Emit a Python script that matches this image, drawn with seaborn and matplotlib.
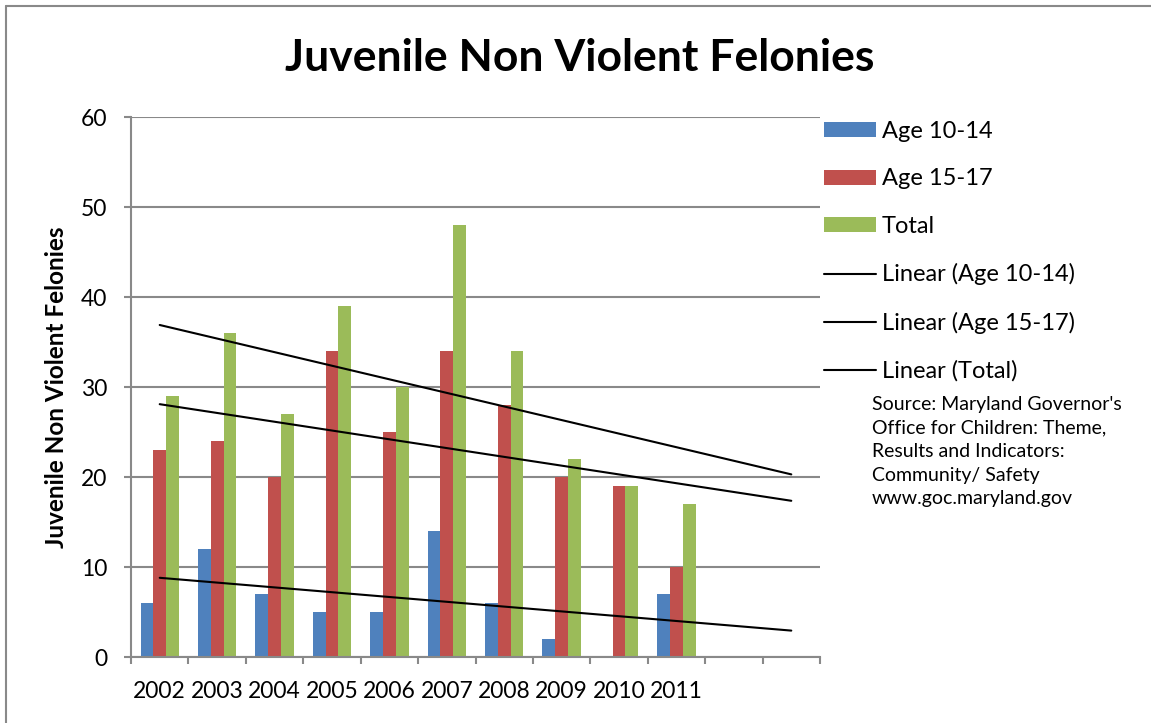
import numpy as np
import pandas as pd
import matplotlib
matplotlib.use("Agg")
import matplotlib.pyplot as plt
from matplotlib.patches import Patch
from matplotlib.lines import Line2D
import seaborn as sns

# Yearly juvenile non-violent felony counts
years = ["2002", "2003", "2004", "2005", "2006", "2007", "2008", "2009", "2010", "2011"]
age_10_14 = [6, 12, 7, 5, 5, 14, 6, 2, 0, 7]
age_15_17 = [23, 24, 20, 34, 25, 34, 28, 20, 19, 10]
total = [29, 36, 27, 39, 30, 48, 34, 22, 19, 17]
series_names = ["Age 10-14", "Age 15-17", "Total"]
forecast_periods = 2

colors = ["#4F81BD", "#C0504D", "#9BBB59"]
grid_gray = "#898989"

sns.set_theme(style="white")
plt.rcParams["font.family"] = ["Lato", "DejaVu Sans"]
plt.rcParams.update({"text.color": "black", "axes.labelcolor": "black",
                     "xtick.color": "black", "ytick.color": "black"})

df = pd.DataFrame({
    "year": years * 3,
    "series": sum([[n] * len(years) for n in series_names], []),
    "value": age_10_14 + age_15_17 + total,
})

fig = plt.figure(figsize=(11.51, 7.23), dpi=100)
ax = fig.add_axes([131 / 1151, 1 - 657 / 723, (820 - 131) / 1151, 540 / 723])

sns.barplot(data=df, x="year", y="value", hue="series", order=years,
            hue_order=series_names, palette=colors, width=3 / 4.5, gap=0,
            saturation=1, errorbar=None, legend=False, ax=ax, zorder=2)
for bar in ax.patches:
    bar.set_linewidth(0)

# Linear trendlines, extended two periods forward
n_cat = len(years) + forecast_periods
x_fit = np.arange(len(years))
x_ext = np.arange(n_cat)
for vals in (age_10_14, age_15_17, total):
    slope, intercept = np.polyfit(x_fit, vals, 1)
    sns.lineplot(x=x_ext, y=slope * x_ext + intercept, color="black",
                 linewidth=1.5, ax=ax, zorder=3)

ax.set_xlim(-0.5, n_cat - 0.5)
ax.set_ylim(0, 60)
ax.set_yticks(range(0, 61, 10))
ax.yaxis.grid(True, color=grid_gray, linewidth=1.5, zorder=0)
ax.set_axisbelow(True)

ax.set_xticks(range(len(years)))
ax.set_xticklabels(years)
ax.set_xticks(np.arange(-0.5, n_cat, 1), minor=True)
ax.tick_params(axis="x", which="major", length=0, pad=17, labelsize=16.5, labelcolor="black")
ax.tick_params(axis="x", which="minor", length=5, width=1.5, color=grid_gray,
               direction="out", bottom=True)
ax.tick_params(axis="y", length=5, width=1.5, color=grid_gray, direction="out",
               left=True, pad=12, labelsize=16.5, labelcolor="black")

for side in ("top", "right"):
    ax.spines[side].set_visible(False)
for side in ("left", "bottom"):
    ax.spines[side].set_color(grid_gray)
    ax.spines[side].set_linewidth(1.5)

ax.set_xlabel("")
ax.set_ylabel("Juvenile Non Violent Felonies", fontsize=17.5, fontweight="bold")
ax.yaxis.set_label_coords((68 - 131) / 689, 0.5)

fig.text(580 / 1151, 1 - 58 / 723, "Juvenile Non Violent Felonies",
         ha="center", va="center", fontsize=32, fontweight="bold")

handles = [Patch(facecolor=c, edgecolor="none") for c in colors]
handles += [Line2D([], [], color="black", linewidth=1.5) for _ in range(3)]
labels = series_names + [f"Linear ({n})" for n in series_names]
fig.legend(handles, labels, loc="upper left",
           bbox_to_anchor=(824 / 1151, 1 - 121 / 723), frameon=False,
           fontsize=17, handlelength=2.2, handleheight=0.6, handletextpad=0.25,
           labelspacing=1.12, borderpad=0, borderaxespad=0)

fig.text(872 / 1151, 1 - 396 / 723,
         "Source: Maryland Governor's\nOffice for Children: Theme,\n"
         "Results and Indicators:\nCommunity/ Safety\nwww.goc.maryland.gov",
         ha="left", va="top", fontsize=14, linespacing=1.47)

# Chart frame
fig.add_artist(Line2D([6 / 1151, 1], [1 - 6 / 723] * 2, transform=fig.transFigure,
                      color=grid_gray, linewidth=1.5))
fig.add_artist(Line2D([6 / 1151] * 2, [0, 1 - 6 / 723], transform=fig.transFigure,
                      color=grid_gray, linewidth=1.5))

fig.savefig("out.png", dpi=100)
